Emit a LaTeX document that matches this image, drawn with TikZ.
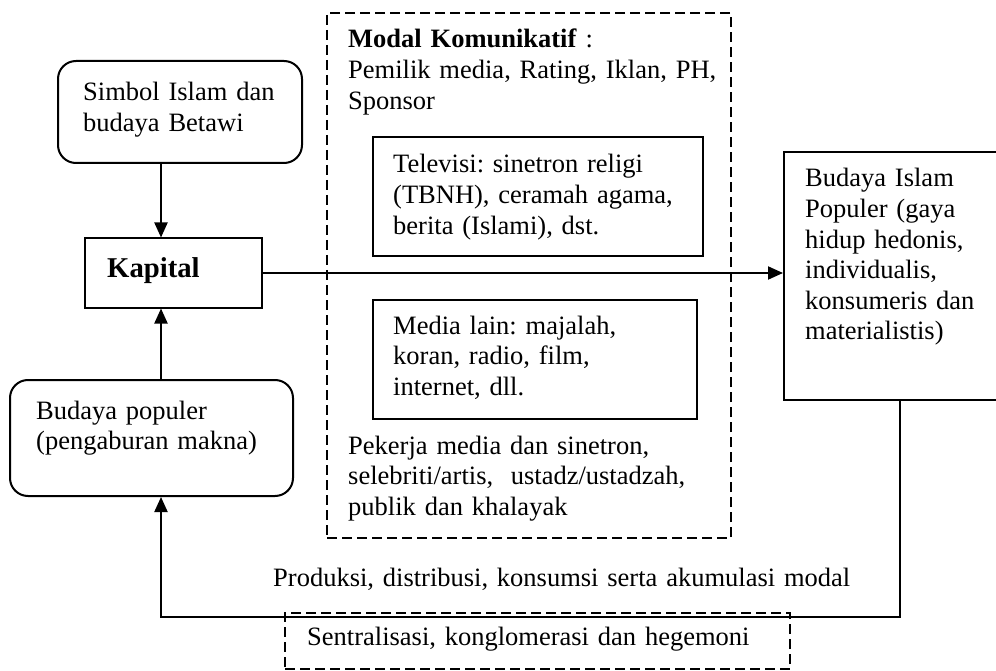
\documentclass[tikz,border=0pt]{standalone}
\usepackage{fontspec}
\setmainfont{Liberation Serif}
\frenchspacing
\usetikzlibrary{arrows.meta}
\tikzset{
  lw/.style={line width=2pt},
  sbox/.style={draw, lw, inner sep=0pt},
  rbox/.style={sbox, rounded corners=18pt},
  dbox/.style={draw, lw, dash pattern=on 10pt off 5pt, inner sep=0pt},
  txt/.style={anchor=base west, inner sep=0pt, align=left, text width=800pt,
              font=\fontsize{26.5}{30.6}\selectfont\frenchspacing},
  arr/.style={lw, -{Triangle[length=15pt,width=13pt]}}
}
\begin{document}
\begin{tikzpicture}[x=1pt,y=-1pt]
\clip (0,0) rectangle (996,671);
\fill[white] (0,0) rectangle (996,671);

% boxes
\node[rbox, minimum width=244pt, minimum height=102pt] (simbol) at (180,112) {};
\node[sbox, minimum width=177pt, minimum height=69pt] (kapital) at (173.5,273) {};
\node[rbox, minimum width=283pt, minimum height=116pt] (populer) at (151.5,438) {};
\node[dbox, minimum width=404pt, minimum height=525pt] (modal) at (529,275.5) {};
\node[sbox, minimum width=330pt, minimum height=119pt] (tv) at (538,196.5) {};
\node[sbox, minimum width=324pt, minimum height=119pt] (media) at (535,359.5) {};
\node[sbox, minimum width=236pt, minimum height=248pt] (islam) at (902,276) {};
\node[dbox, minimum width=505pt, minimum height=56pt] (sentral) at (537.5,641) {};

% texts
\node[txt] (tsimbol) at (83,101) {Simbol Islam dan\\budaya Betawi};
\node[txt, font=\fontsize{28.7}{33}\selectfont\bfseries] (tkapital) at (107,277) {Kapital};
\node[txt] (tpopuler) at (36,419) {Budaya populer\\(pengaburan makna)};
\node[txt] (tmodal) at (348,48) {\textbf{Modal Komunikatif} :\\Pemilik media, Rating, Iklan, PH,\\Sponsor};
\node[txt] (ttv) at (393,173) {Televisi: sinetron religi\\(TBNH), ceramah agama,\\berita (Islami), dst.};
\node[txt] (tmedia) at (393,334) {Media lain: majalah,\\koran, radio, film,\\internet, dll.};
\node[txt] (tpekerja) at (348,454) {Pekerja media dan sinetron,\\selebriti/artis,\ \ ustadz/ustadzah,\\publik dan khalayak};
\node[txt] (tislam) at (805,187) {Budaya Islam\\Populer (gaya\\hidup hedonis,\\individualis,\\konsumeris dan\\materialistis)};
\node[txt] (tproduksi) at (273,586) {Produksi, distribusi, konsumsi serta akumulasi modal};
\node[txt] (tsentral) at (307,645) {Sentralisasi, konglomerasi dan hegemoni};

% connectors
\coordinate (ax) at (161,0);
\coordinate (lx) at (900,617);
\draw[arr] (simbol.south -| ax) -- (kapital.north -| ax);
\draw[arr] (populer.north -| ax) -- (kapital.south -| ax);
\draw[arr] (kapital.east) -- (kapital.east -| islam.west);
\draw[arr] (islam.south -| lx) -- (lx) -| (populer.south -| ax);
\end{tikzpicture}
\end{document}
